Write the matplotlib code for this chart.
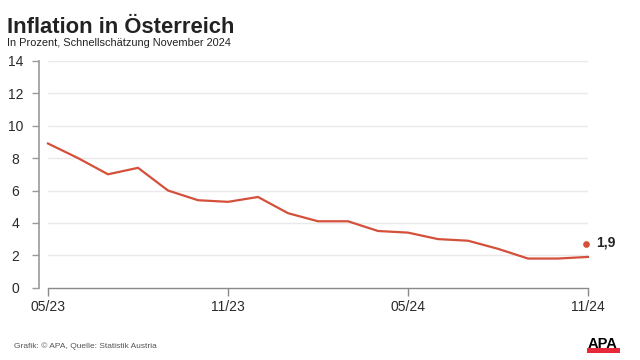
import matplotlib
matplotlib.use('Agg')
import matplotlib.pyplot as plt
from matplotlib.transforms import ScaledTranslation
from matplotlib.patches import Rectangle

plt.rcParams['font.family'] = ['Liberation Sans', 'DejaVu Sans']

# monthly inflation rate, 05/2023 - 11/2024
months = ['05/23', '06/23', '07/23', '08/23', '09/23', '10/23', '11/23', '12/23',
          '01/24', '02/24', '03/24', '04/24', '05/24', '06/24', '07/24', '08/24',
          '09/24', '10/24', '11/24']
inflation = [8.9, 8.0, 7.0, 7.4, 6.0, 5.4, 5.3, 5.6, 4.6, 4.1, 4.1, 3.5, 3.4,
             3.0, 2.9, 2.4, 1.8, 1.8, 1.9]
xtick_labels = ['05/23', '11/23', '05/24', '11/24']
yticks = [0, 2, 4, 6, 8, 10, 12, 14]

red = '#d4503a'
grey = '#9a9a9a'

fig = plt.figure(figsize=(6.4, 3.6), dpi=100)
ax = fig.add_axes([39 / 640, 72.3 / 360, 549 / 640, 226.8 / 360])

x = list(range(len(months)))
ax.hlines(yticks[1:], x[0], x[-1], color='#e9e9e9', lw=1, zorder=1)
ax.plot(x, inflation, color=red, lw=1.6, clip_on=False, zorder=3,
        solid_joinstyle='round')

ax.set_xlim(-0.3, x[-1])
ax.set_ylim(0, 14)
ax.set_yticks(yticks)
ax.set_yticklabels([str(v) for v in yticks], ha='center')
ax.set_xticks([months.index(m) for m in xtick_labels])
ax.set_xticklabels(xtick_labels)

for s in ['top', 'right']:
    ax.spines[s].set_visible(False)
ax.spines['left'].set_color(grey)
ax.spines['left'].set_linewidth(1.2)
ax.spines['bottom'].set_color('#8a8a8a')
ax.spines['bottom'].set_linewidth(1.0)
ax.spines['bottom'].set_bounds(x[0], x[-1])

ax.tick_params(axis='y', length=5, width=1, color=grey, pad=12,
               labelsize=10, labelcolor='#2a2a2a')
ax.tick_params(axis='x', length=5.8, width=1, color='#8a8a8a', pad=3,
               labelsize=10, labelcolor='#2a2a2a')

# last value marker and label
off = ScaledTranslation(-2 / 100, 13.4 / 100, fig.dpi_scale_trans)
ax.plot(x[-1], inflation[-1], 'o', color=red, ms=3.8, transform=ax.transData + off,
        clip_on=False, zorder=4)
ax.annotate(f'{inflation[-1]:.1f}'.replace('.', ','), xy=(x[-1], inflation[-1]),
            xytext=(6, 10.3), textcoords='offset points', fontsize=10,
            fontweight='bold', color='#222222', va='center', ha='left',
            annotation_clip=False)

fig.text(7 / 640, 1 - 33 / 360, 'Inflation in Österreich', fontsize=15.8,
         fontweight='bold', color='#222222', va='baseline')
fig.text(7 / 640, 1 - 46 / 360, 'In Prozent, Schnellschätzung November 2024',
         fontsize=7.9, color='#222222', va='baseline')
fig.text(14 / 640, 1 - 348 / 360, 'Grafik: © APA, Quelle: Statistik Austria',
         fontsize=6, color='#555555', va='baseline')

# APA logo
fig.text(603 / 640, 1 - 347.5 / 360, 'APA', fontsize=10.5, fontweight='bold',
         color='black', ha='center', va='baseline')
fig.patches.append(Rectangle((586.5 / 640, 1 - 353 / 360), 33 / 640, 5 / 360,
                             transform=fig.transFigure, color='#e5283a', lw=0))

fig.savefig('out.png', dpi=100)
